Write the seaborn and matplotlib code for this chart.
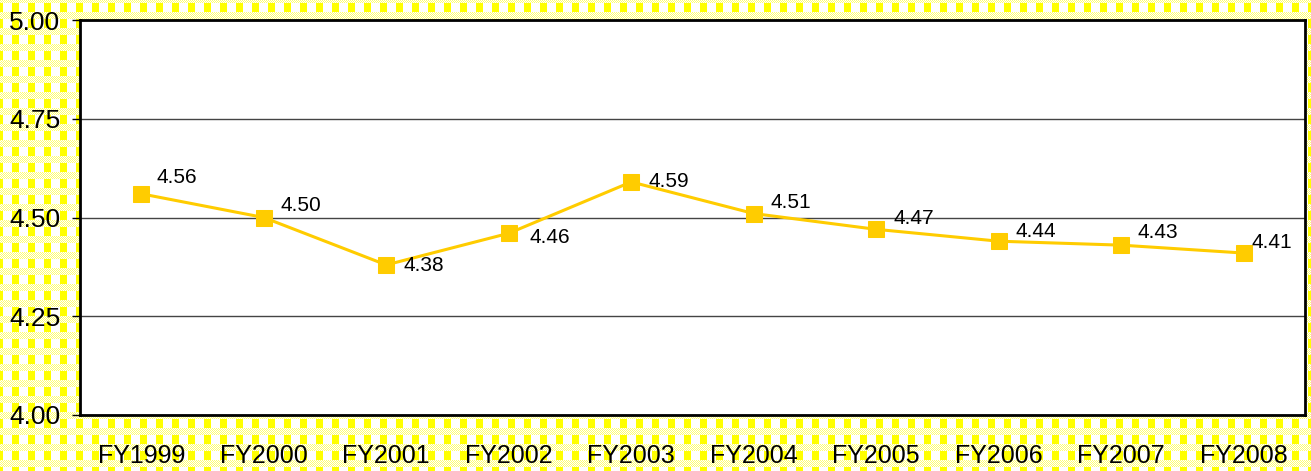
import numpy as np
import pandas as pd
import matplotlib
matplotlib.use("Agg")
import matplotlib.pyplot as plt
import seaborn as sns

categories = ["FY1999", "FY2000", "FY2001", "FY2002", "FY2003",
              "FY2004", "FY2005", "FY2006", "FY2007", "FY2008"]
values = [4.56, 4.50, 4.38, 4.46, 4.59, 4.51, 4.47, 4.44, 4.43, 4.41]
yticks = [4.00, 4.25, 4.50, 4.75, 5.00]

# label placement (pixel offsets from the marker centre), style only
label_dx = [15, 17, 17, 21, 17, 17, 17, 17, 16, 8]
label_dy = [16, 12, -1, -4, 0, 11, 11, 10, 13, 11]

sns.set_theme(style="white")
plt.rcParams['font.family'] = ['Liberation Sans', 'DejaVu Sans']
plt.rcParams['text.color'] = 'black'
plt.rcParams['xtick.color'] = 'black'
plt.rcParams['ytick.color'] = 'black'
plt.rcParams['xtick.labelcolor'] = 'black'
plt.rcParams['ytick.labelcolor'] = 'black'

W, H = 1311, 471
fig = plt.figure(figsize=(W / 100, H / 100), dpi=100)

# gingham background
period = 16
yy, xx = np.mgrid[0:H, 0:W]
xs = ((xx + 4) % period) < 7
ys = ((yy + 4) % period) < 7
checker = ((xx + yy) % 2) == 0
yellow = np.array([1.0, 1.0, 0.0])
pale = np.array([1.0, 1.0, 0.45])
white = np.array([1.0, 1.0, 1.0])
img = np.zeros((H, W, 3))
img[:] = white
img[xs] = yellow
img[ys & checker] = pale
img[ys & ~checker] = white
fig.figimage(img, xo=0, yo=0, origin='upper', zorder=-10)

ax = fig.add_axes([80 / W, 1 - 415 / H, (1305 - 80) / W, (415 - 20) / H])
ax.set_facecolor("white")

df = pd.DataFrame({"cat": categories, "val": values})
df["x"] = np.arange(len(categories))
sns.lineplot(data=df, x="x", y="val", ax=ax, color="#FFCC00", linewidth=2.2,
             marker="s", markersize=11, markeredgecolor="#FFCC00", zorder=3)

for xi, v, dx, dy in zip(df["x"], values, label_dx, label_dy):
    ax.annotate(f"{v:.2f}", (xi, v), xytext=(dx, dy), textcoords="offset pixels",
                fontsize=15, color="black", ha="left", va="center", zorder=4)

ax.set_xlim(-0.5, len(categories) - 0.5)
ax.set_ylim(4.0, 5.0)
ax.set_yticks(yticks)
ax.set_yticklabels([f"{t:.2f}" for t in yticks], fontsize=19, color="black")
ax.set_xticks(df["x"])
ax.set_xticklabels(categories, fontsize=18, color="black")
ax.set_xlabel("")
ax.set_ylabel("")
ax.yaxis.grid(True, color="#444444", linewidth=1)
ax.xaxis.grid(False)
ax.tick_params(axis="y", which="major", left=True, length=6, width=1, color="black", pad=8)
ax.tick_params(axis="x", which="major", bottom=False, pad=15)
for s in ax.spines.values():
    s.set_color("black")
    s.set_linewidth(2)
    s.set_visible(True)

fig.savefig("out.png", dpi=100)
